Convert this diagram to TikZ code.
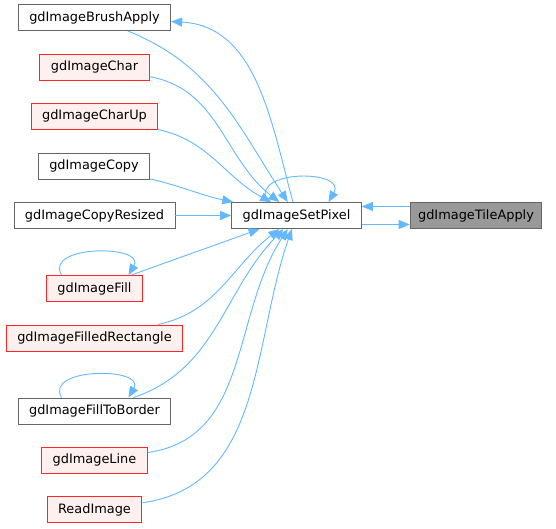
\documentclass[tikz,border=0pt]{standalone}
\usepackage{fontspec}
\setmainfont{DejaVu Sans}
\usepackage{xcolor}
\usetikzlibrary{arrows.meta,positioning,calc}

\definecolor{callblue}{HTML}{63B8FF}
\definecolor{boxgray}{HTML}{666666}
\definecolor{redfill}{HTML}{FFF0F0}
\definecolor{tilefill}{HTML}{999999}

\begin{document}
\begin{tikzpicture}[->, >={Triangle[length=11pt,width=9pt]}, x=1pt, y=1pt]
	\tikzstyle{fn}=[rectangle, draw=boxgray, fill=white, line width=0.9pt, text=black,
		minimum height=26pt, inner xsep=11pt, inner ysep=0pt, font=\fontsize{12.9}{15}\selectfont]
	\tikzstyle{fnred}=[fn, draw=red!85, fill=redfill]
	\tikzstyle{fnsel}=[fn, fill=tilefill, minimum width=131.7pt, inner xsep=4pt]
	\tikzstyle{every edge}=[draw=callblue, line width=0.9pt]
	\useasboundingbox (0,0) rectangle (556,-528);

	\node[fn]     at (94.5,-17.5)  (ba) {gdImageBrushApply};
	\node[fnred]  at (94.5,-67)    (ch) {gdImageChar};
	\node[fnred]  at (94.5,-116)   (cu) {gdImageCharUp};
	\node[fn]     at (94,-166)     (cp) {gdImageCopy};
	\node[fn]     at (94.5,-215.5) (cr) {gdImageCopyResized};
	\node[fnred]  at (94.5,-288.5) (fl) {gdImageFill};
	\node[fnred]  at (94.5,-338)   (fr) {gdImageFilledRectangle};
	\node[fn]     at (94.5,-411)   (fb) {gdImageFillToBorder};
	\node[fnred]  at (94.5,-460)   (ln) {gdImageLine};
	\node[fnred]  at (94.5,-509.5) (ri) {ReadImage};
	\node[fn]     at (296.5,-215.5) (sp) {gdImageSetPixel};
	\node[fnsel]  at (476,-215.5)  (ta) {gdImageTileApply};

	\path
	(ba) edge[out=-22, in=123] (sp)
	(sp) edge[out=105, in=-3] (ba)
	(ch) edge[out=-10, in=142] (sp)
	(cu) edge[out=-12, in=152] (sp)
	(cp) edge[out=-13, in=168] (sp)
	(cr) edge (sp)
	(fl) edge[out=20, in=-160] (sp)
	(fr) edge[out=12, in=-142] (sp)
	(fb) edge[out=19, in=-134] (sp)
	(ln) edge[out=8, in=-123] (sp)
	(ri) edge[out=8, in=-109] (sp)

	([xshift=-29pt]sp.north) edge[out=120, in=60, looseness=1.6] ([xshift=32pt]sp.north)
	([xshift=-33pt]fl.north) edge[out=120, in=60, looseness=1.35] ([xshift=34pt]fl.north)
	([xshift=-33pt]fb.north) edge[out=120, in=60, looseness=1.35] ([xshift=34pt]fb.north)

	([yshift=9pt]ta.west) edge ([yshift=9pt]sp.east)
	([yshift=-9pt]sp.east) edge ([yshift=-9pt]ta.west);
\end{tikzpicture}
\end{document}
